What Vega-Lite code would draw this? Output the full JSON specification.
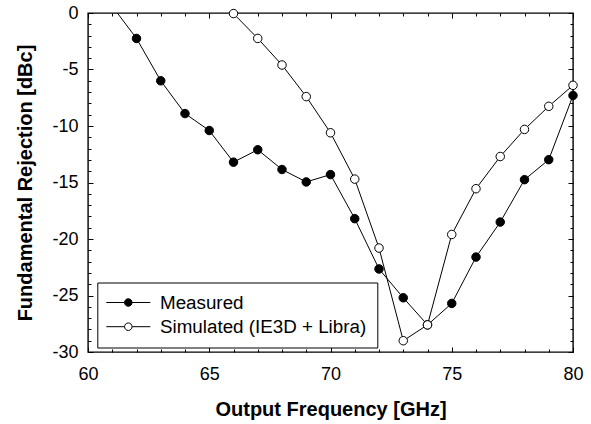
{
  "$schema": "https://vega.github.io/schema/vega-lite/v6.json",
  "autosize": {"type": "none"},
  "padding": {"left": 88, "top": 13, "right": 18, "bottom": 72},
  "width": 485,
  "height": 339,
  "background": "white",
  "config": {
    "view": {"stroke": "black", "strokeWidth": 1.4},
    "font": "Liberation Sans",
    "axis": {
      "domain": false,
      "grid": false,
      "tickColor": "black",
      "tickWidth": 1,
      "labelFont": "Liberation Sans",
      "labelFontSize": 18,
      "labelColor": "black",
      "titleFont": "Liberation Sans",
      "titleFontSize": 20,
      "titleFontWeight": "bold",
      "titleColor": "black"
    }
  },
  "data": {
    "values": [
      {"f": 61, "v": 0.6, "s": "Measured"},
      {"f": 62, "v": -2.25, "s": "Measured"},
      {"f": 63, "v": -6.0, "s": "Measured"},
      {"f": 64, "v": -8.9, "s": "Measured"},
      {"f": 65, "v": -10.4, "s": "Measured"},
      {"f": 66, "v": -13.2, "s": "Measured"},
      {"f": 67, "v": -12.1, "s": "Measured"},
      {"f": 68, "v": -13.85, "s": "Measured"},
      {"f": 69, "v": -14.95, "s": "Measured"},
      {"f": 70, "v": -14.3, "s": "Measured"},
      {"f": 71, "v": -18.2, "s": "Measured"},
      {"f": 72, "v": -22.65, "s": "Measured"},
      {"f": 73, "v": -25.2, "s": "Measured"},
      {"f": 74, "v": -27.6, "s": "Measured"},
      {"f": 75, "v": -25.7, "s": "Measured"},
      {"f": 76, "v": -21.6, "s": "Measured"},
      {"f": 77, "v": -18.5, "s": "Measured"},
      {"f": 78, "v": -14.75, "s": "Measured"},
      {"f": 79, "v": -12.98, "s": "Measured"},
      {"f": 80, "v": -7.3, "s": "Measured"},
      {"f": 66, "v": -0.05, "s": "Simulated (IE3D + Libra)"},
      {"f": 67, "v": -2.25, "s": "Simulated (IE3D + Libra)"},
      {"f": 68, "v": -4.6, "s": "Simulated (IE3D + Libra)"},
      {"f": 69, "v": -7.4, "s": "Simulated (IE3D + Libra)"},
      {"f": 70, "v": -10.6, "s": "Simulated (IE3D + Libra)"},
      {"f": 71, "v": -14.7, "s": "Simulated (IE3D + Libra)"},
      {"f": 72, "v": -20.8, "s": "Simulated (IE3D + Libra)"},
      {"f": 73, "v": -29.0, "s": "Simulated (IE3D + Libra)"},
      {"f": 74, "v": -27.6, "s": "Simulated (IE3D + Libra)"},
      {"f": 75, "v": -19.6, "s": "Simulated (IE3D + Libra)"},
      {"f": 76, "v": -15.55, "s": "Simulated (IE3D + Libra)"},
      {"f": 77, "v": -12.7, "s": "Simulated (IE3D + Libra)"},
      {"f": 78, "v": -10.3, "s": "Simulated (IE3D + Libra)"},
      {"f": 79, "v": -8.26, "s": "Simulated (IE3D + Libra)"},
      {"f": 80, "v": -6.4, "s": "Simulated (IE3D + Libra)"}
    ]
  },
  "layer": [
    {
      "mark": {"type": "line", "clip": true, "color": "black", "strokeWidth": 1},
      "encoding": {
        "x": {
          "field": "f", "type": "quantitative",
          "scale": {"domain": [60, 80], "nice": false, "zero": false},
          "axis": {
            "orient": "bottom",
            "title": "Output Frequency [GHz]",
            "values": [60,61,62,63,64,65,66,67,68,69,70,71,72,73,74,75,76,77,78,79,80],
            "labelExpr": "datum.value % 5 === 0 ? toString(datum.value) : ''",
            "tickSize": {"condition": {"test": "datum.value % 5 === 0", "value": -5}, "value": -3},
            "labelPadding": 18,
            "labelFlush": false,
            "titleBaseline": "alphabetic",
            "titleY": 63
          }
        },
        "y": {
          "field": "v", "type": "quantitative",
          "scale": {"domain": [-30, 0], "nice": false, "zero": false},
          "axis": {
            "orient": "left",
            "title": "Fundamental Rejection [dBc]",
            "values": [0,-1,-2,-3,-4,-5,-6,-7,-8,-9,-10,-11,-12,-13,-14,-15,-16,-17,-18,-19,-20,-21,-22,-23,-24,-25,-26,-27,-28,-29,-30],
            "labelExpr": "datum.value % 5 === 0 ? toString(datum.value) : ''",
            "tickSize": {"condition": {"test": "datum.value % 5 === 0", "value": -5}, "value": -3},
            "labelPadding": 15,
            "labelFlush": false,
            "titleBaseline": "alphabetic",
            "titleX": -57
          }
        },
        "detail": {"field": "s", "type": "nominal"}
      }
    },
    {
      "transform": [{"filter": "datum.v <= 0"}],
      "mark": {"type": "point", "shape": "circle", "filled": true, "stroke": "black", "strokeWidth": 1, "size": 72, "opacity": 1},
      "encoding": {
        "x": {
          "field": "f", "type": "quantitative",
          "axis": {
            "orient": "top", "title": null, "labels": false,
            "values": [60,61,62,63,64,65,66,67,68,69,70,71,72,73,74,75,76,77,78,79,80],
            "tickSize": {"condition": {"test": "datum.value % 5 === 0", "value": -5}, "value": -3}
          }
        },
        "y": {
          "field": "v", "type": "quantitative",
          "axis": {
            "orient": "right", "title": null, "labels": false,
            "values": [0,-1,-2,-3,-4,-5,-6,-7,-8,-9,-10,-11,-12,-13,-14,-15,-16,-17,-18,-19,-20,-21,-22,-23,-24,-25,-26,-27,-28,-29,-30],
            "tickSize": {"condition": {"test": "datum.value % 5 === 0", "value": -5}, "value": -3}
          }
        },
        "fill": {
          "field": "s", "type": "nominal",
          "scale": {"domain": ["Measured", "Simulated (IE3D + Libra)"], "range": ["black", "white"]},
          "legend": {
            "orient": "none",
            "legendX": 9.3,
            "legendY": 269.5,
            "title": null,
            "strokeColor": "black",
            "fillColor": "white",
            "padding": 10.6,
            "rowPadding": 4.2,
            "symbolType": "M-2.75,0H-0.47M0.47,0H2.75M-0.47,0A0.47,0.47,0,1,1,0.47,0A0.47,0.47,0,1,1,-0.47,0Z",
            "symbolSize": 256,
            "symbolOffset": 11,
            "symbolStrokeColor": "black",
            "symbolStrokeWidth": 1,
            "symbolOpacity": 1,
            "labelFont": "Liberation Sans",
            "labelFontSize": 18.8,
            "labelColor": "black",
            "labelOffset": 22.3,
            "labelLimit": 400
          }
        }
      }
    }
  ],
  "resolve": {"axis": {"x": "independent", "y": "independent"}}
}
